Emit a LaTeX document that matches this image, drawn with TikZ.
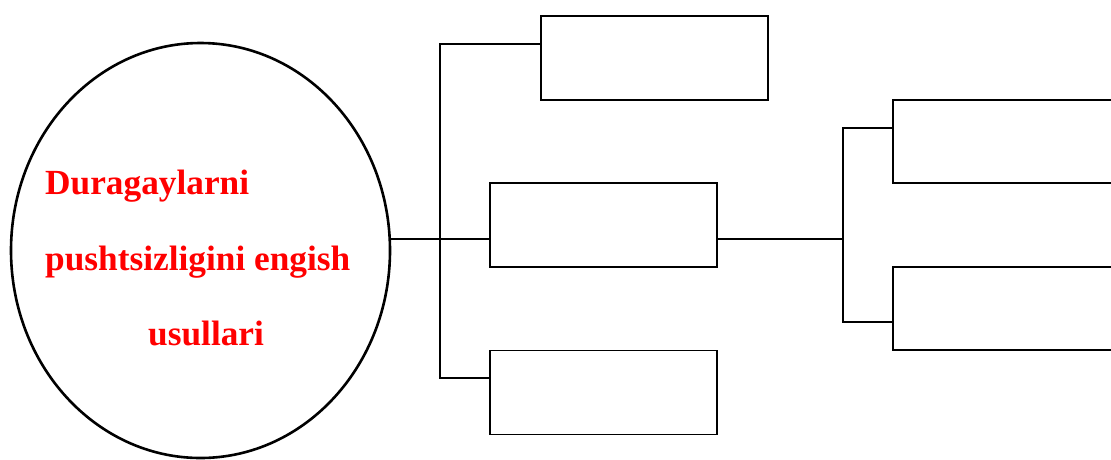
\documentclass[tikz,border=0pt]{standalone}
\usepackage{fontspec}
\setmainfont{Liberation Serif}
\usetikzlibrary{shapes.geometric}
\begin{document}
\begin{tikzpicture}[x=1pt,y=-1pt,
  box/.style={draw, line width=1.6pt, minimum width=227pt, minimum height=84pt, inner sep=0pt},
  wbox/.style={box, minimum width=236pt, minimum height=83pt},
  conn/.style={line width=1.6pt},
  lbl/.style={text=red, font=\bfseries\fontsize{35.3}{40}\selectfont, inner sep=0pt, anchor=base west}]
\useasboundingbox (0,0) rectangle (1111,459);
\clip (0,0) rectangle (1111,459);
\node[draw, ellipse, line width=2.6pt, minimum width=379pt, minimum height=415pt, inner sep=0pt] (ell) at (200.5,250.5) {};
\node[lbl] (t1) at (45,194) {Duragaylarni};
\node[lbl] (t2) at (45,270) {pushtsizligini engish};
\node[lbl] (t3) at (148,345) {usullari};
\node[box] (b1) at (654.5,58) {};
\node[box] (b2) at (603.5,225) {};
\node[box] (b3) at (603.5,392.5) {};
\node[wbox] (b4) at (1011,141.5) {};
\node[wbox] (b5) at (1011,308.5) {};
\coordinate (j1) at (440,239);
\coordinate (j1t) at (440,44);
\coordinate (j1b) at (440,378);
\coordinate (j2) at (843,239);
\coordinate (j2t) at (843,128);
\coordinate (j2b) at (843,322);
\draw[conn] (ell.east |- j1) -- (b2.west |- j1);
\draw[conn] (b1.west |- j1t) -- (j1t) -- (j1b) -- (b3.west |- j1b);
\draw[conn] (b2.east |- j2) -- (j2);
\draw[conn] (b4.west |- j2t) -- (j2t) -- (j2b) -- (b5.west |- j2b);
\end{tikzpicture}
\end{document}
